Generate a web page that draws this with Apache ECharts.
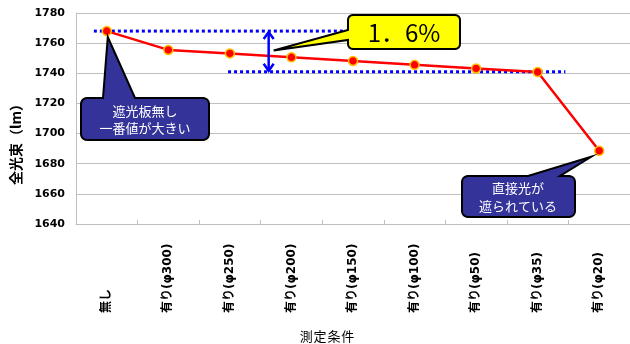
<!DOCTYPE html>
<html><head><meta charset="utf-8">
<script src="https://cdn.jsdelivr.net/npm/echarts@6/dist/echarts.min.js"></script>
<style>html,body{margin:0;padding:0;background:#fff}#c{width:630px;height:344px}</style>
</head><body><div id="c"></div>
<script>
// ---- data ----
const categories = ['無し','有り(φ300)','有り(φ250)','有り(φ200)','有り(φ150)','有り(φ100)','有り(φ50)','有り(φ35)','有り(φ20)'];
const values = [1768, 1755.5, 1753.2, 1750.6, 1748.2, 1745.6, 1743.2, 1740.8, 1688.6];
const yMin = 1640, yMax = 1780, yStep = 20;
const yName = '全光束（lm）';
const xName = '測\u200A定\u200A条\u200A件';
// reference lines (value, x-start, x-end in category units)
const refTop = [1768, -0.21, 3.84];
const refBottom = [1741, 1.97, 7.45];
const arrowX = 2.63;
const pctText = '1．6%';
const note1 = ['遮光板無し', '一番値が大きい'];
const note2 = ['直接光が', '遮られている'];

const CJK = '"Noto Sans CJK JP", "DejaVu Sans", sans-serif';
const chart = echarts.init(document.getElementById('c'), null, {renderer: 'canvas'});
const option = {
  animation: false,
  backgroundColor: '#fff',
  grid: {left: 76, top: 13, width: 557, height: 211, containLabel: false},
  xAxis: [{
    type: 'category', data: categories, boundaryGap: true,
    axisLine: {lineStyle: {color: '#BFBFBF', width: 1}},
    axisTick: {show: true, inside: true, length: 4, lineStyle: {color: '#BFBFBF'}},
    axisLabel: {rotate: 90, align: 'left', verticalAlign: 'middle', margin: 89, interval: 0,
      color: '#000', fontWeight: 'bold', fontSize: 12, fontFamily: '"DejaVu Sans", "Noto Sans CJK JP", sans-serif'}
  }, {
    type: 'value', min: -0.5, max: 8.5, show: false, gridIndex: 0
  }],
  yAxis: {
    type: 'value', min: yMin, max: yMax, interval: yStep,
    axisLine: {show: true, onZero: false, lineStyle: {color: '#BFBFBF'}},
    axisTick: {show: false},
    splitLine: {lineStyle: {color: '#BFBFBF', width: 1}},
    axisLabel: {color: '#000', fontWeight: 'bold', fontSize: 11, margin: 11, fontFamily: '"DejaVu Sans", sans-serif',
      formatter: v => String(v)}
  },
  series: [
    {type: 'line', xAxisIndex: 1, data: [[refTop[1], refTop[0]], [refTop[2], refTop[0]]], symbol: 'none',
      lineStyle: {color: '#0000FF', width: 3, type: [3, 3], cap: 'butt'}, z: 1, silent: true},
    {type: 'line', xAxisIndex: 1, data: [[refBottom[1], refBottom[0]], [refBottom[2], refBottom[0]]], symbol: 'none',
      lineStyle: {color: '#0000FF', width: 3, type: [3, 3], cap: 'butt'}, z: 1, silent: true},
    {type: 'line', xAxisIndex: 0, data: values, symbol: 'circle', symbolSize: 9,
      lineStyle: {color: '#FF0000', width: 2.5},
      itemStyle: {color: '#FF0000', borderColor: '#FFC000', borderWidth: 1.5}, z: 3}
  ]
};
chart.setOption(option);

function px(x, y) { return chart.convertToPixel({xAxisIndex: 1, yAxisIndex: 0}, [x, y]); }
const a1 = px(arrowX, refTop[0]), a2 = px(arrowX, refBottom[0]);
const p0 = chart.convertToPixel({xAxisIndex: 0, yAxisIndex: 0}, [0, values[0]]);
const p8 = chart.convertToPixel({xAxisIndex: 0, yAxisIndex: 0}, [8, values[8]]);

function arc(cx, cy, r, a0, a1, pts) {
  const n = 6;
  for (let i = 0; i <= n; i++) {
    const a = a0 + (a1 - a0) * i / n;
    pts.push([cx + r * Math.cos(a), cy + r * Math.sin(a)]);
  }
}
// rounded box with a pointer, as polygon points
function callout(x1, y1, x2, y2, r, ptr) {
  const P = Math.PI, pts = [];
  arc(x1 + r, y1 + r, r, P, 1.5 * P, pts);
  if (ptr.side === 'top') { pts.push([ptr.b1, y1], [ptr.tx, ptr.ty], [ptr.b2, y1]); }
  arc(x2 - r, y1 + r, r, 1.5 * P, 2 * P, pts);
  arc(x2 - r, y2 - r, r, 0, 0.5 * P, pts);
  arc(x1 + r, y2 - r, r, 0.5 * P, P, pts);
  if (ptr.side === 'left') { pts.push([x1, ptr.b2], [ptr.tx, ptr.ty], [x1, ptr.b1]); }
  return pts;
}

const ax = a1[0];
const graphics = [
  {type: 'polyline', shape: {points: [[ax, a1[1] + 1], [ax, a2[1] - 1]]}, style: {stroke: '#0000FF', lineWidth: 2.5}, z: 10},
  {type: 'polyline', shape: {points: [[ax - 5, a1[1] + 8], [ax, a1[1] + 1], [ax + 5, a1[1] + 8]]}, style: {stroke: '#0000FF', lineWidth: 2.5, fill: null}, z: 10},
  {type: 'polyline', shape: {points: [[ax - 5, a2[1] - 8], [ax, a2[1] - 1], [ax + 5, a2[1] - 8]]}, style: {stroke: '#0000FF', lineWidth: 2.5, fill: null}, z: 10},
  {type: 'polygon', shape: {points: callout(348, 15, 460, 49, 5, {side: 'left', b1: 30, b2: 40, tx: ax + 5, ty: (a1[1] + a2[1]) / 2 - 1})},
    style: {fill: '#FFFF00', stroke: '#000', lineWidth: 2, lineJoin: 'miter'}, z: 20},
  {type: 'text', x: 404, y: 33, style: {text: pctText, font: '24px ' + CJK, fill: '#000', align: 'center', verticalAlign: 'middle'}, z: 21},
  {type: 'polygon', shape: {points: callout(81, 98, 209, 140, 6, {side: 'top', b1: 103, b2: 135, tx: p0[0] + 1, ty: p0[1] + 6})},
    style: {fill: '#333399', stroke: '#000', lineWidth: 2}, z: 20},
  {type: 'text', x: 145, y: 120, style: {text: note1.join('\n'), font: '13px ' + CJK, lineHeight: 17, fill: '#fff', align: 'center', verticalAlign: 'middle'}, z: 21},
  {type: 'polygon', shape: {points: callout(462, 176, 575, 217, 6, {side: 'top', b1: 528, b2: 560, tx: p8[0] - 8, ty: p8[1] + 6})},
    style: {fill: '#333399', stroke: '#000', lineWidth: 2}, z: 20},
  {type: 'text', x: 518, y: 197, style: {text: note2.join('\n'), font: '13px ' + CJK, lineHeight: 18, fill: '#fff', align: 'center', verticalAlign: 'middle'}, z: 21},
  {type: 'text', x: 16, y: 141, rotation: Math.PI / 2, style: {text: yName, font: 'bold 14px ' + CJK, fill: '#000', align: 'center', verticalAlign: 'middle'}, z: 21},
  {type: 'text', x: 327, y: 336, style: {text: xName, font: '13px ' + CJK, fill: '#000', align: 'center', verticalAlign: 'middle'}, z: 21}
];
chart.setOption({graphic: graphics});
</script>
</body></html>
